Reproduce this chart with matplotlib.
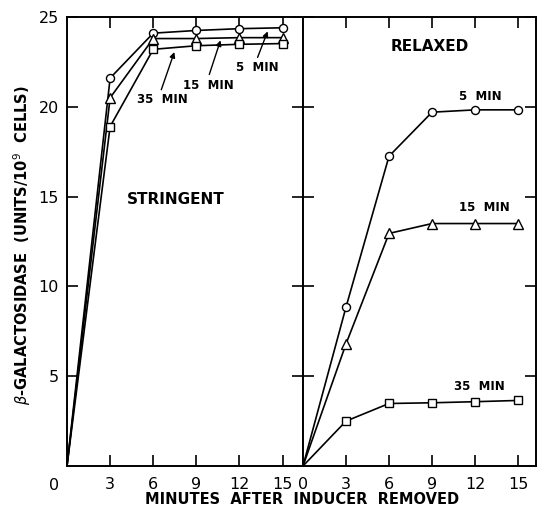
import matplotlib
matplotlib.use("Agg")
import matplotlib.pyplot as plt

minutes = [0, 3, 6, 9, 12, 15]

stringent_5 = [0, 21.6, 24.1, 24.25, 24.35, 24.4]
stringent_15 = [0, 20.5, 23.8, 23.8, 23.85, 23.85]
stringent_35 = [0, 18.9, 23.2, 23.4, 23.48, 23.52]

relaxed_5 = [0, 8.85, 17.25, 19.7, 19.83, 19.83]
relaxed_15 = [0, 6.8, 12.95, 13.5, 13.5, 13.5]
relaxed_35 = [0, 2.5, 3.48, 3.52, 3.58, 3.65]

series_labels = ["5  MIN", "15  MIN", "35  MIN"]
markers = ["o", "^", "s"]
x_ticks = [3, 6, 9, 12, 15]
y_ticks = [5, 10, 15, 20, 25]

plt.rcParams['font.family'] = ['DejaVu Sans']

fig = plt.figure(figsize=(5.38, 5.12), dpi=100)
W, H = 538, 512
bot = 1 - 466 / H
top = 1 - 17 / H
axL = fig.add_axes([67 / W, bot, (303 - 67) / W, top - bot])
axR = fig.add_axes([303 / W, bot, (536 - 303) / W, top - bot])

msizes = {"o": 5.8, "^": 6.5, "s": 6.2}

def draw(ax, data):
    for vals, m in zip(data, markers):
        ax.plot(minutes, vals, color="black", lw=1.2, marker=m,
                markersize=msizes[m], markerfacecolor="white",
                markeredgecolor="black", markeredgewidth=1.0,
                markevery=list(range(1, len(minutes))), clip_on=False, zorder=3)
    ax.set_ylim(0, 25)
    for s in ax.spines.values():
        s.set_linewidth(1.4)

draw(axL, [stringent_5, stringent_15, stringent_35])
draw(axR, [relaxed_5, relaxed_15, relaxed_35])

axL.set_xlim(0, 16.42)
axR.set_xlim(0, 16.25)

# left panel ticks
axL.set_xticks(x_ticks)
axL.set_xticklabels([str(v) for v in x_ticks])
axL.set_yticks(y_ticks)
axL.set_yticklabels([str(v) for v in y_ticks])
axL.tick_params(axis="x", direction="in", length=8, width=1.2, top=True,
                labelsize=11.5, pad=8)
axL.tick_params(axis="y", direction="in", length=8, width=1.2, right=True,
                labelsize=11.5, pad=6)
axL.annotate("0", xy=(0, 0), xycoords="data", xytext=(-9, -9),
             textcoords="offset points", ha="center", va="top", fontsize=11.5,
             annotation_clip=False)

# right panel ticks
axR.set_xticks([0] + x_ticks)
axR.set_xticklabels([str(v) for v in [0] + x_ticks])
axR.set_yticks(y_ticks)
axR.tick_params(axis="x", direction="in", length=8, width=1.2, top=True,
                labelsize=11.5, pad=8)
axR.tick_params(axis="y", direction="in", length=8, width=1.2, left=True,
                right=True, labelleft=False)
axR.get_xticklines()[0].set_visible(False)
axR.get_xticklines()[1].set_visible(False)

# panel texts
axL.text(7.6, 14.86, "STRINGENT", ha="center", va="center", fontsize=11,
         fontweight="bold")
axR.text(8.86, 23.35, "RELAXED", ha="center", va="center", fontsize=11,
         fontweight="bold")

# stringent annotations with arrows
str_ann = [
    ("5  MIN", (13.26, 22.2), (13.26, 22.75), (13.96, 24.2)),
    ("15  MIN", (9.84, 21.2), (9.9, 21.8), (10.68, 23.7)),
    ("35  MIN", (6.63, 20.4), (6.56, 20.95), (7.47, 23.05)),
]
for lab, tpos, tail, tip in str_ann:
    axL.text(tpos[0], tpos[1], lab, ha="center", va="center", fontsize=8.5,
             fontweight="bold")
    axL.annotate("", xy=tip, xytext=tail,
                 arrowprops=dict(arrowstyle="-|>", color="black", lw=1.0,
                                 mutation_scale=8, shrinkA=0, shrinkB=0))

# relaxed labels
rel_pos = [(12.35, 20.56), (12.67, 14.4), (12.28, 4.4)]
for lab, pos in zip(series_labels, rel_pos):
    axR.text(pos[0], pos[1], lab, ha="center", va="center", fontsize=8.5,
             fontweight="bold")

fig.text(302 / W, 1 - 500 / H, "MINUTES  AFTER  INDUCER  REMOVED",
         ha="center", va="center", fontsize=10.5, fontweight="bold")
fig.text(22 / W, 1 - 245 / H, r"$\beta$-GALACTOSIDASE  (UNITS/10$^{9}$  CELLS)",
         ha="center", va="center", rotation=90, fontsize=10.5,
         fontweight="bold")

fig.savefig("out.png", dpi=100)
